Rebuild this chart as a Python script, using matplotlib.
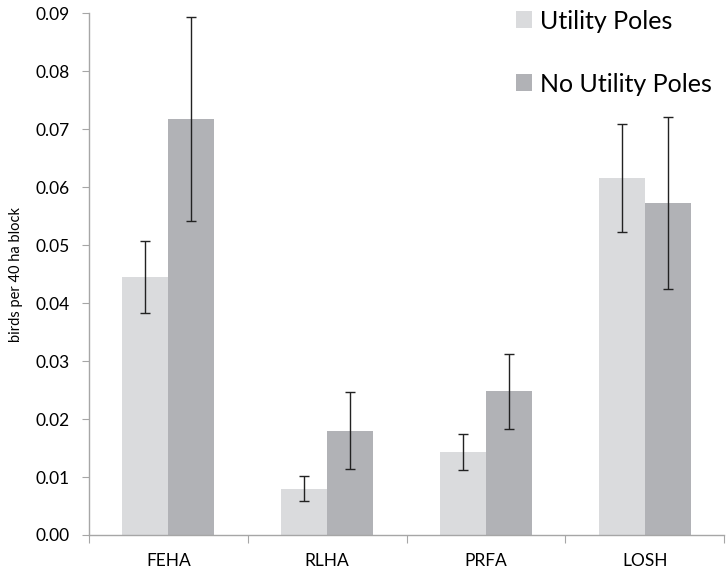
import numpy as np
import matplotlib
matplotlib.use('Agg')
import matplotlib.pyplot as plt

plt.rcParams['font.family'] = ['Lato', 'DejaVu Sans']

# Data
species = ['FEHA', 'RLHA', 'PRFA', 'LOSH']
poles = [0.0445, 0.0080, 0.0143, 0.0615]
poles_err = [0.0062, 0.0022, 0.0031, 0.0093]
no_poles = [0.0717, 0.0180, 0.0248, 0.0573]
no_poles_err = [0.0176, 0.0066, 0.0065, 0.0148]
yticks = [0.00, 0.01, 0.02, 0.03, 0.04, 0.05, 0.06, 0.07, 0.08, 0.09]

light = '#DADBDD'
dark = '#B1B2B6'
axis_gray = '#A6A6A6'

fig = plt.figure(figsize=(7.27, 5.72), dpi=100)
ax = fig.add_axes([0.1224, 0.0647, 0.8736, 0.9123])

x = np.arange(len(species))
width = 0.29
ekw = dict(ecolor='#222222', elinewidth=1.0, capsize=3.5, capthick=1.0)

ax.bar(x - width / 2, poles, width, yerr=poles_err, color=light,
       label='Utility Poles', error_kw=ekw)
ax.bar(x + width / 2, no_poles, width, yerr=no_poles_err, color=dark,
       label='No Utility Poles', error_kw=ekw)

ax.set_xlim(-0.5, len(species) - 0.5)
ax.set_ylim(0, 0.09)
ax.set_yticks(yticks)
ax.set_yticklabels([f'{v:.2f}' for v in yticks], fontsize=12.5)

# category labels centred, ticks on the boundaries
ax.set_xticks(np.arange(len(species) + 1) - 0.5)
ax.set_xticklabels([])
ax.set_xticks(x, minor=True)
ax.set_xticklabels(species, minor=True, fontsize=12.5)
ax.tick_params(axis='x', which='minor', length=0, pad=13)
ax.tick_params(axis='x', which='major', length=6, color=axis_gray, direction='out')
ax.tick_params(axis='y', length=5, color=axis_gray, direction='out', pad=9)

for side in ['top', 'right']:
    ax.spines[side].set_visible(False)
for side in ['left', 'bottom']:
    ax.spines[side].set_color(axis_gray)
    ax.spines[side].set_linewidth(1.0)

ax.set_ylabel('birds per 40 ha block', fontsize=10.5, labelpad=9)

ax.legend(loc='upper right', bbox_to_anchor=(1.016, 1.05), frameon=False,
          fontsize=18, handlelength=0.65, handleheight=0.65, handletextpad=0.3,
          labelspacing=1.6)

fig.savefig('out.png', dpi=100)
